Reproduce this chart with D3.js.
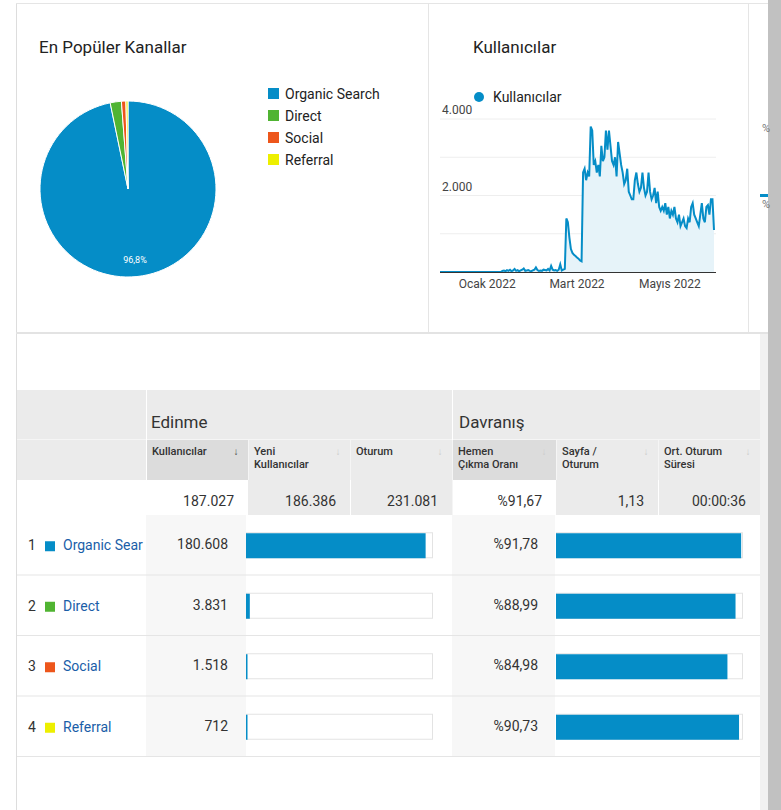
<!DOCTYPE html>
<html><head><meta charset="utf-8">
<script src="https://cdn.jsdelivr.net/npm/d3@7"></script>
<style>body{margin:0;background:#fff;font-family:Roboto,"Noto Sans",sans-serif;}</style>
</head><body><svg id="c" width="781" height="810"></svg>
<script>
// channels
const channels = ["Organic Search", "Direct", "Social", "Referral"];
const channelColors = ["#058dc7", "#50b432", "#ed561b", "#edef00"];
const users = [180608, 3831, 1518, 712];
const userLabels = ["180.608", "3.831", "1.518", "712"];
const bounce = [91.78, 88.99, 84.98, 90.73];
const bounceLabels = ["%91,78", "%88,99", "%84,98", "%90,73"];
const totals = ["187.027", "186.386", "231.081", "%91,67", "1,13", "00:00:36"];
const headers = ["Kullanıcılar", "Yeni\nKullanıcılar", "Oturum", "Hemen\nÇıkma Oranı", "Sayfa /\nOturum", "Ort. Oturum\nSüresi"];
const yTicks = [2000, 4000];
const xTicks = ["2022-01-01", "2022-03-01", "2022-05-01"];
const xTickLabels = ["Ocak 2022", "Mart 2022", "Mayıs 2022"];
// daily users, 1 Dec 2021 onwards
const daily = [
 0,0,0,0,0,0,0,0,0,0,0,0,0,0,0,0,0,0,0,0,0,0,0,0,0,0,0,0,0,0,0,
 0,0,0,0,0,0,0,0,0,0,30,40,20,50,30,60,20,40,80,30,50,20,40,60,90,30,40,50,30,20,40,
 60,120,50,30,40,30,60,50,40,80,40,160,60,40,50,30,60,200,40,60,80,1400,1300,900,600,500,450,420,
 380,350,300,280,2600,2700,2400,2600,2500,3800,3700,2800,2900,2600,2800,2500,3300,2900,3000,3700,3200,3700,3300,2900,2800,3000,2500,3400,3100,2800,2600,
 2300,2400,2700,2100,2000,1900,1900,2400,2600,2300,2100,2200,2600,2200,2000,2100,2600,2100,1900,2000,2200,1800,2100,1700,1600,1700,1600,1800,1500,1700,
 1400,1600,1500,1700,1400,1300,1500,1200,1300,1400,1200,1150,1400,1300,1700,1800,1500,1400,1300,1200,1500,1800,1400,1300,1700,1750,1500,1900,1900,1100
];

const svg = d3.select("#c");
const blue = "#058dc7";

// frame
svg.append("line").attr("x1",16.5).attr("x2",16.5).attr("y1",3).attr("y2",810).attr("stroke","#ddd");
svg.append("line").attr("x1",16).attr("x2",768).attr("y1",3.5).attr("y2",3.5).attr("stroke","#e5e5e5");
svg.append("line").attr("x1",428.5).attr("x2",428.5).attr("y1",3).attr("y2",333).attr("stroke","#e5e5e5");
svg.append("line").attr("x1",748.5).attr("x2",748.5).attr("y1",3).attr("y2",333).attr("stroke","#e5e5e5");
svg.append("rect").attr("x",16).attr("y",332).attr("width",752).attr("height",2).attr("fill","#e3e3e3");
svg.append("rect").attr("x",768).attr("y",0).attr("width",13).attr("height",810).attr("fill","#c1c1c1");
svg.append("rect").attr("x",760).attr("y",334).attr("width",8).attr("height",476).attr("fill","#f1f1f1");

// pie
svg.append("text").attr("x",39).attr("y",53).attr("font-size",17).attr("fill","#222").text("En Popüler Kanallar");
const pie = d3.pie().sort(null)(users);
const arc = d3.arc().innerRadius(0).outerRadius(88);
const pg = svg.append("g").attr("transform","translate(128,189)");
pg.selectAll("path").data(pie).join("path").attr("d",arc)
  .attr("fill",(d,i)=>channelColors[i]).attr("stroke","#fff").attr("stroke-width",1);
pg.append("text").attr("x",7).attr("y",74).attr("font-size",9).attr("fill","#fff").attr("text-anchor","middle")
  .text(d3.format(".1f")(users[0]/d3.sum(users)*100).replace(".",",")+"%");
const lg = svg.append("g").attr("transform","translate(268,88)");
channels.forEach((c,i)=>{
  lg.append("rect").attr("x",0).attr("y",i*22).attr("width",11).attr("height",11).attr("fill",channelColors[i]);
  lg.append("text").attr("x",17).attr("y",i*22+11).attr("font-size",14).attr("fill","#222").text(c);
});

// line chart
svg.append("text").attr("x",473).attr("y",53).attr("font-size",17).attr("fill","#222").text("Kullanıcılar");
svg.append("circle").attr("cx",479).attr("cy",97).attr("r",5).attr("fill",blue);
svg.append("text").attr("x",493).attr("y",102).attr("font-size",14).attr("fill","#222").text("Kullanıcılar");
const start = new Date(2021,11,1);
const dates = daily.map((v,i)=>d3.timeDay.offset(start,i));
const x = d3.scaleTime().domain([start, dates[dates.length-1]]).range([440,714]);
const y = d3.scaleLinear().domain([0,4000]).range([272,119]);
[1000,2000,3000,4000].forEach(t=>svg.append("line").attr("x1",440).attr("x2",716)
  .attr("y1",y(t)).attr("y2",y(t)).attr("stroke","#eee"));
yTicks.forEach(t=>svg.append("text").attr("x",442).attr("y",y(t)-5).attr("font-size",12).attr("fill","#444")
  .text(d3.format(",")(t).replace(",",".")));
svg.append("path").datum(daily).attr("fill","#e6f3f9")
  .attr("d",d3.area().x((d,i)=>x(dates[i])).y0(y(0)).y1(d=>y(d)));
svg.append("path").datum(daily).attr("fill","none").attr("stroke",blue).attr("stroke-width",2)
  .attr("d",d3.line().x((d,i)=>x(dates[i])).y(d=>y(d)));
svg.append("line").attr("x1",440).attr("x2",716).attr("y1",272.5).attr("y2",272.5).attr("stroke","#333");
xTicks.forEach((t,i)=>svg.append("text").attr("x",x(new Date(t+"T00:00"))).attr("y",288).attr("font-size",12)
  .attr("fill","#444").attr("text-anchor","middle").text(xTickLabels[i]));
// clipped next panel
svg.append("text").attr("x",762).attr("y",132).attr("font-size",11).attr("fill","#777").text("%");
svg.append("text").attr("x",762).attr("y",208).attr("font-size",11).attr("fill","#777").text("%");
svg.append("rect").attr("x",760).attr("y",194).attr("width",8).attr("height",3).attr("fill",blue);

// table
const cols = [146,248,350,452,556,658,760];
svg.append("rect").attr("x",17).attr("y",390).attr("width",743).attr("height",90).attr("fill","#ebebeb");
svg.append("rect").attr("x",146).attr("y",440).attr("width",102).attr("height",40).attr("fill","#dcdcdc");
svg.append("rect").attr("x",452).attr("y",440).attr("width",104).attr("height",40).attr("fill","#dcdcdc");
svg.append("line").attr("x1",17).attr("x2",760).attr("y1",439.5).attr("y2",439.5).attr("stroke","#f5f5f5");
[146,452].forEach(c=>svg.append("line").attr("x1",c+.5).attr("x2",c+.5).attr("y1",390).attr("y2",757).attr("stroke","#fff").attr("stroke-width",1));
svg.append("text").attr("x",151).attr("y",428).attr("font-size",17).attr("fill","#333").text("Edinme");
svg.append("text").attr("x",459).attr("y",428).attr("font-size",17).attr("fill","#333").text("Davranış");
headers.forEach((h,i)=>{
  const t = svg.append("text").attr("x",cols[i]+6).attr("y",455).attr("font-size",11).attr("font-weight",500).attr("fill","#333");
  h.split("\n").forEach((s,k)=>t.append("tspan").attr("x",cols[i]+6).attr("dy",k?13:0).text(s));
  svg.append("text").attr("x",cols[i+1]-12).attr("y",455).attr("font-size",10).attr("text-anchor","middle")
    .attr("fill",i?"#ccc":"#444").text("↓");
  if(i) svg.append("line").attr("x1",cols[i]+.5).attr("x2",cols[i]+.5).attr("y1",440).attr("y2",515).attr("stroke","#f5f5f5");
});
// totals row
svg.append("rect").attr("x",248).attr("y",480).attr("width",204).attr("height",35).attr("fill","#ebebeb");
svg.append("rect").attr("x",556).attr("y",480).attr("width",204).attr("height",35).attr("fill","#ebebeb");
svg.append("line").attr("x1",350.5).attr("x2",350.5).attr("y1",480).attr("y2",515).attr("stroke","#fff");
svg.append("line").attr("x1",658.5).attr("x2",658.5).attr("y1",480).attr("y2",515).attr("stroke","#fff");
totals.forEach((t,i)=>svg.append("text").attr("x",cols[i+1]-14).attr("y",506).attr("font-size",14)
  .attr("text-anchor","end").attr("fill","#333").text(t));
// rows
const rowY = d3.scaleBand().domain(d3.range(4)).range([515,757]);
const ux = d3.scaleLinear().domain([0,187027]).range([0,186]);
const bx = d3.scaleLinear().domain([0,92.2]).range([0,186]);
svg.append("rect").attr("x",146).attr("y",515).attr("width",100).attr("height",242).attr("fill","#f7f7f7");
svg.append("rect").attr("x",452).attr("y",515).attr("width",103).attr("height",242).attr("fill","#f7f7f7");
channels.forEach((c,i)=>{
  const y0 = rowY(i), h = rowY.bandwidth(), cy = y0+h/2;
  svg.append("line").attr("x1",17).attr("x2",760).attr("y1",y0+h-.5).attr("y2",y0+h-.5).attr("stroke","#e5e5e5");
  svg.append("text").attr("x",28).attr("y",cy+5).attr("font-size",14).attr("fill","#333").text(i+1);
  svg.append("rect").attr("x",45).attr("y",cy-4).attr("width",10).attr("height",10).attr("fill",channelColors[i]);
  svg.append("text").attr("x",63).attr("y",cy+5).attr("font-size",14).attr("fill","#1a5ea8")
    .text(c==="Organic Search"?"Organic Sear":c);
  svg.append("text").attr("x",228).attr("y",cy+4).attr("font-size",14).attr("text-anchor","end").attr("fill","#333").text(userLabels[i]);
  svg.append("text").attr("x",538).attr("y",cy+4).attr("font-size",14).attr("text-anchor","end").attr("fill","#333").text(bounceLabels[i]);
  svg.append("rect").attr("x",246.5).attr("y",cy-12.5).attr("width",186).attr("height",25).attr("fill","#fff").attr("stroke","#e3e3e3");
  svg.append("rect").attr("x",246).attr("y",cy-12).attr("width",Math.max(ux(users[i]),1.5)).attr("height",25).attr("fill",blue);
  svg.append("rect").attr("x",556.5).attr("y",cy-12.5).attr("width",186).attr("height",25).attr("fill","#fff").attr("stroke","#e3e3e3");
  svg.append("rect").attr("x",556).attr("y",cy-12).attr("width",bx(bounce[i])).attr("height",25).attr("fill",blue);
});
</script></body></html>
